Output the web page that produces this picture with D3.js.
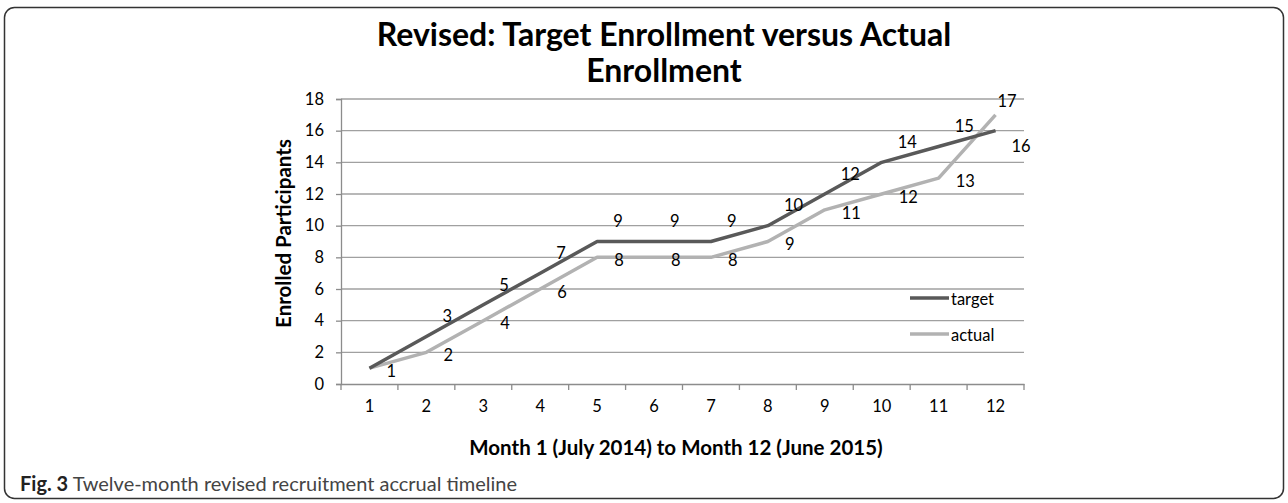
<!DOCTYPE html>
<html>
<head>
<meta charset="utf-8">
<script src="https://cdn.jsdelivr.net/npm/d3@7"></script>
<style>
  html, body { margin: 0; padding: 0; background: #fff; }
  svg { display: block; font-family: Lato, "Open Sans", sans-serif; }
</style>
</head>
<body>
<svg id="chart" width="1288" height="503"></svg>
<script>
// ---- data ----
const months = [1, 2, 3, 4, 5, 6, 7, 8, 9, 10, 11, 12];
const target = [1, 3, 5, 7, 9, 9, 9, 10, 12, 14, 15, 16];
const actual = [1, 2, 4, 6, 8, 8, 8, 9, 11, 12, 13, 17];
const yTicks = [0, 2, 4, 6, 8, 10, 12, 14, 16, 18];
const seriesNames = ["target", "actual"];
const titleLines = ["Revised: Target Enrollment versus Actual", "Enrollment"];
const yTitle = "Enrolled Participants";
const xTitle = "Month 1 (July 2014) to Month 12 (June 2015)";
const captionBold = "Fig. 3";
const captionText = " Twelve-month revised recruitment accrual timeline";

// ---- layout ----
const svg = d3.select("#chart");
const plot = { left: 341, right: 1024, top: 99, bottom: 384 };
const colTarget = "#595959", colActual = "#b2b2b2";
const tickFont = 16.5;

// frame
svg.append("rect").attr("x", 4.5).attr("y", 7.5).attr("width", 1279).attr("height", 491)
  .attr("rx", 10).attr("fill", "none").attr("stroke", "#333").attr("stroke-width", 1.5);

const x = d3.scaleBand().domain(months).range([plot.left, plot.right]);
const y = d3.scaleLinear().domain([0, 18]).range([plot.bottom, plot.top]);
const cx = m => x(m) + x.bandwidth() / 2;

// gridlines
svg.append("g").selectAll("line").data(yTicks.filter(t => t > 0)).join("line")
  .attr("x1", plot.left).attr("x2", plot.right)
  .attr("y1", d => y(d)).attr("y2", d => y(d))
  .attr("stroke", "#a0a0a0").attr("stroke-width", 1.3);

// y axis
const yAxis = svg.append("g").attr("transform", `translate(${plot.left},0)`)
  .call(d3.axisLeft(y).tickValues(yTicks).tickSize(5).tickPadding(12));
yAxis.select(".domain").attr("stroke", "#8c8c8c").attr("stroke-width", 1.3);
yAxis.selectAll(".tick line").attr("stroke", "#8c8c8c").attr("stroke-width", 1.3);
yAxis.selectAll("text").attr("font-size", tickFont).attr("fill", "#000")
  .attr("font-family", "Lato, sans-serif");

// x axis
const xAxis = svg.append("g").attr("transform", `translate(0,${plot.bottom})`)
  .call(d3.axisBottom(x).tickSize(0).tickPadding(16));
xAxis.select(".domain").attr("stroke", "#8c8c8c").attr("stroke-width", 1.3);
xAxis.selectAll("text").attr("font-size", tickFont).attr("fill", "#000")
  .attr("font-family", "Lato, sans-serif");
// boundary tick marks
const bounds = months.map(m => x(m)).concat([plot.right]);
svg.append("g").selectAll("line").data(bounds).join("line")
  .attr("x1", d => d).attr("x2", d => d)
  .attr("y1", plot.bottom).attr("y2", plot.bottom + 6)
  .attr("stroke", "#8c8c8c").attr("stroke-width", 1.3);

// lines
const line = d3.line().x((d, i) => cx(months[i])).y(d => y(d));
svg.append("path").datum(actual).attr("d", line).attr("fill", "none")
  .attr("stroke", colActual).attr("stroke-width", 3.5).attr("stroke-linejoin", "round");
svg.append("path").datum(target).attr("d", line).attr("fill", "none")
  .attr("stroke", colTarget).attr("stroke-width", 3.5).attr("stroke-linejoin", "round");

// data labels
const last = months.length - 1;
const lblT = svg.append("g").attr("font-size", tickFont).attr("fill", "#000");
target.forEach((v, i) => {
  if (i === 0 && actual[0] === v) return; // overlapping label hidden
  const swap = i === last && actual[i] > v;
  lblT.append("text").attr("x", cx(months[i]) + 16)
    .attr("y", y(v) + (swap ? 16 : -20)).attr("dy", "0.35em").text(v);
});
const lblA = svg.append("g").attr("font-size", tickFont).attr("fill", "#000");
actual.forEach((v, i) => {
  const swap = i === last && v > target[i];
  lblA.append("text").attr("x", cx(months[i]) + (swap ? 2 : 17))
    .attr("y", y(v) + (swap ? -14 : 3)).attr("dy", "0.35em").text(v);
});

// legend
const legend = svg.append("g");
seriesNames.forEach((s, i) => {
  const ly = 298 + i * 36;
  legend.append("line").attr("x1", 910).attr("x2", 949).attr("y1", ly).attr("y2", ly)
    .attr("stroke", i === 0 ? colTarget : colActual).attr("stroke-width", 3.5);
  legend.append("text").attr("x", 951).attr("y", ly + 1).attr("dy", "0.35em")
    .attr("font-size", tickFont).attr("fill", "#000").text(s);
});

// titles
titleLines.forEach((t, i) => {
  svg.append("text").attr("x", 664).attr("y", 46 + i * 36).attr("text-anchor", "middle")
    .attr("font-size", 32).attr("font-weight", "bold").attr("fill", "#000").text(t);
});
svg.append("text").attr("transform", `translate(284,${(plot.top + plot.bottom) / 2 - 8}) rotate(-90)`)
  .attr("text-anchor", "middle").attr("dy", "0.35em")
  .attr("font-size", 20.5).attr("font-weight", "bold").attr("fill", "#000").text(yTitle);
svg.append("text").attr("x", 676).attr("y", 448).attr("dy", "0.35em").attr("text-anchor", "middle")
  .attr("font-size", 20.5).attr("font-weight", "bold").attr("fill", "#000").text(xTitle);

// caption
const cap = svg.append("text").attr("x", 20).attr("y", 484).attr("dy", "0.35em")
  .attr("font-size", 20).attr("fill", "#222");
cap.append("tspan").attr("font-weight", "bold").text(captionBold);
cap.append("tspan").attr("fill", "#444").text(captionText);
</script>
</body>
</html>
